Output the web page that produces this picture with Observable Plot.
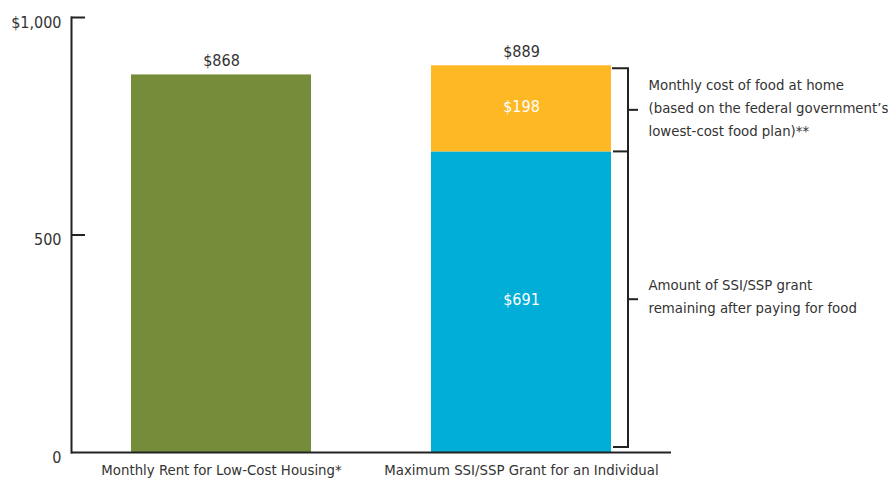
<!DOCTYPE html>
<html>
<head>
<meta charset="utf-8">
<script src="https://cdn.jsdelivr.net/npm/d3@7"></script>
<script src="https://cdn.jsdelivr.net/npm/@observablehq/plot@0.6"></script>
<style>
  html, body { margin: 0; padding: 0; background: #fff; }
  svg { font-family: "Liberation Sans Narrow", "DejaVu Sans Condensed", sans-serif; }
</style>
</head>
<body>
<div id="chart"></div>
<script>
const categories = ["Monthly Rent for Low-Cost Housing*", "Maximum SSI/SSP Grant for an Individual"];
const parts = ["rent", "remaining", "food"];
const partColors = ["#758d3a", "#00aed8", "#fdb823"];
const values = [868, 691, 198];
const partCategory = [0, 1, 1];
const totals = [868, 889];
const yTicks = [0, 500, 1000];
const yTickLabels = ["0", "500", "$1,000"];
const notes = [
  "Monthly cost of food at home\n(based on the federal government’s\nlowest-cost food plan)**",
  "Amount of SSI/SSP grant\nremaining after paying for food"
];

const segments = values.map((v, i) => ({cat: categories[partCategory[i]], part: parts[i], value: v}));
const totalRows = totals.map((t, i) => ({cat: categories[i], total: t}));
const grantSegs = [
  {cat: categories[1], y1: values[1], y2: values[1] + values[2], note: notes[0], label: "$" + values[2]},
  {cat: categories[1], y1: 0, y2: values[1], note: notes[1], label: "$" + values[1]}
];

const ink = "#333";

function bracket(index, scales, vals, dim, context) {
  const g = d3.create("svg:g").attr("stroke", "#222").attr("stroke-width", 2).attr("fill", "none");
  const x0 = scales.x(categories[1]) + scales.x.bandwidth();
  const bx = x0 + 17;
  const top = scales.y(values[1] + values[2]) + 3;
  const mid = scales.y(values[1]);
  const bot = scales.y(0) - 5;
  g.append("path").attr("d", `M${x0 + 1},${top}H${bx}V${bot}H${x0 + 2}`);
  g.append("path").attr("d", `M${x0 + 2},${mid}H${bx}`);
  g.append("path").attr("d", `M${bx},${(top + mid) / 2}h10`);
  g.append("path").attr("d", `M${bx},${(mid + bot) / 2}h10`);
  return g.node();
}

const noteOpts = {x: "cat", y: d => (d.y1 + d.y2) / 2, text: "note", textAnchor: "start",
  lineAnchor: "middle", lineHeight: 1.55, dx: 127, fill: ink};

const chart = Plot.plot({
  width: 888,
  height: 481,
  marginLeft: 71,
  marginRight: 217,
  marginTop: 17,
  marginBottom: 29,
  style: {fontSize: "14.8px", color: ink, background: "#fff"},
  x: {domain: categories, paddingInner: 0.4, paddingOuter: 0.197, label: null},
  y: {domain: [0, 1000], label: null},
  color: {domain: parts, range: partColors},
  marks: [
    Plot.barY(segments, {x: "cat", y: "value", fill: "part"}),
    Plot.frame({anchor: "left", stroke: "#222", strokeWidth: 2}),
    Plot.ruleY([0], {stroke: "#222", strokeWidth: 2}),
    Plot.axisY({ticks: [500, 1000], tickSize: -14, text: null, stroke: "#222", strokeWidth: 2}),
    Plot.axisY({ticks: yTicks, tickSize: 0, tickPadding: 10, dy: 5, fill: ink, fontSize: 16,
      tickFormat: d => yTickLabels[yTicks.indexOf(d)], label: null}),
    Plot.axisX({tickSize: 0, tickPadding: 12, fill: ink, label: null}),
    Plot.text(totalRows, {x: "cat", y: "total", text: d => "$" + d.total, dy: -14, fill: ink, fontSize: 16}),
    Plot.text(grantSegs, {x: "cat", y: d => (d.y1 + d.y2) / 2, text: "label", fill: "white", dy: -2, fontSize: 16}),
    Plot.text(grantSegs.slice(0, 1), {...noteOpts, dy: -3}),
    Plot.text(grantSegs.slice(1), {...noteOpts, dy: -8}),
    bracket
  ]
});
document.getElementById("chart").appendChild(chart);
</script>
</body>
</html>
